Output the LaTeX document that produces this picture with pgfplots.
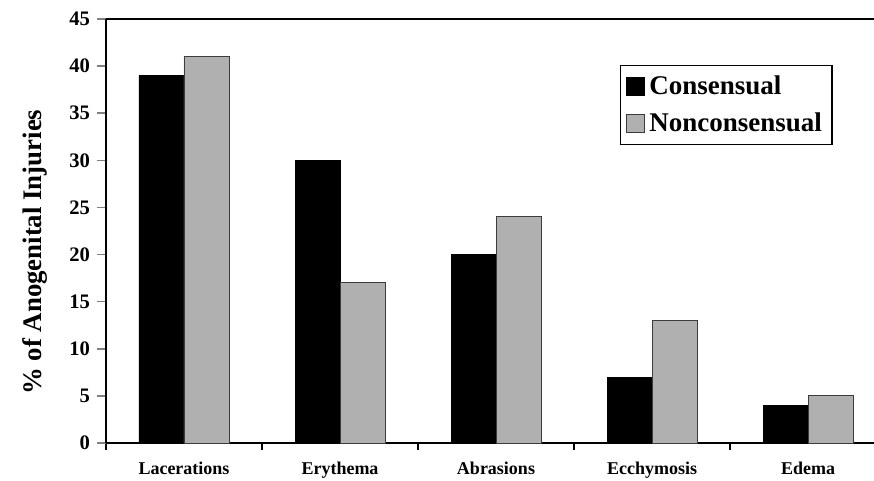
\documentclass[border=0pt]{standalone}
\usepackage{pgfplots}
\pgfplotsset{compat=1.18}
\usepackage{fontspec}
\setmainfont{Liberation Serif}

\definecolor{barblack}{RGB}{0,0,0}
\definecolor{bargray}{RGB}{176,176,176}
\definecolor{edgegray}{RGB}{60,60,60}

\begin{document}
\begin{tikzpicture}
\begin{axis}[
  scale only axis,
  width=384pt, height=212pt,
  ybar=0pt, bar width=22.5pt,
  xmin=-0.5, xmax=4.423,
  ymin=0, ymax=45,
  ytick={0,5,...,45},
  xtick={0,1,2,3,4},
  xticklabels={Lacerations,Erythema,Abrasions,Ecchymosis,Edema},
  minor xtick={-0.5,0.5,1.5,2.5,3.5},
  major x tick style={draw=none},
  minor x tick style={draw=black, line width=0.6pt},
  minor tick length=3.5pt,
  major tick length=4.5pt,
  tick align=outside,
  axis lines*=left,
  axis line style={line width=0.8pt},
  y tick style={line width=0.8pt},
  tick label style={font=\bfseries},
  yticklabel style={font=\fontsize{10.3}{12}\selectfont\bfseries},
  xticklabel style={font=\fontsize{9}{11}\selectfont\bfseries, yshift=-1.5pt},
  /pgf/number format/assume math mode=true,
  ylabel={\% of Anogenital Injuries},
  ylabel style={font=\fontsize{13.4}{16}\selectfont\bfseries, at={(ticklabel cs:0.45)}, yshift=4pt},
  legend style={at={(rel axis cs:0.669,0.892)}, anchor=north west,
    draw=black, line width=0.6pt, font=\fontsize{13.5}{18}\selectfont\bfseries,
    inner xsep=3pt, inner ysep=3pt, row sep=4pt},
  legend cell align=left,
  legend image code/.code={\draw[#1, line width=0.5pt] (0pt,-4.5pt) rectangle (9pt,4.5pt);},
  clip=false,
]
\addplot[fill=barblack, draw=black] coordinates {(0,39) (1,30) (2,20) (3,7) (4,4)};
\addlegendentry{Consensual}
\addplot[fill=bargray, draw=edgegray] coordinates {(0,41) (1,17) (2,24) (3,13) (4,5)};
\addlegendentry{Nonconsensual}
\draw[line width=0.8pt] (rel axis cs:0,1) -- (rel axis cs:1,1);
\coordinate (bl) at (rel axis cs:0,0);
\coordinate (tr) at (rel axis cs:1,1);
\end{axis}
\pgfresetboundingbox
\path (bl) ++(-53pt,-19pt) coordinate (p1);
\path (tr) ++(0pt,9.5pt) coordinate (p2);
\useasboundingbox (p1) rectangle (p2);
\end{tikzpicture}
\end{document}
